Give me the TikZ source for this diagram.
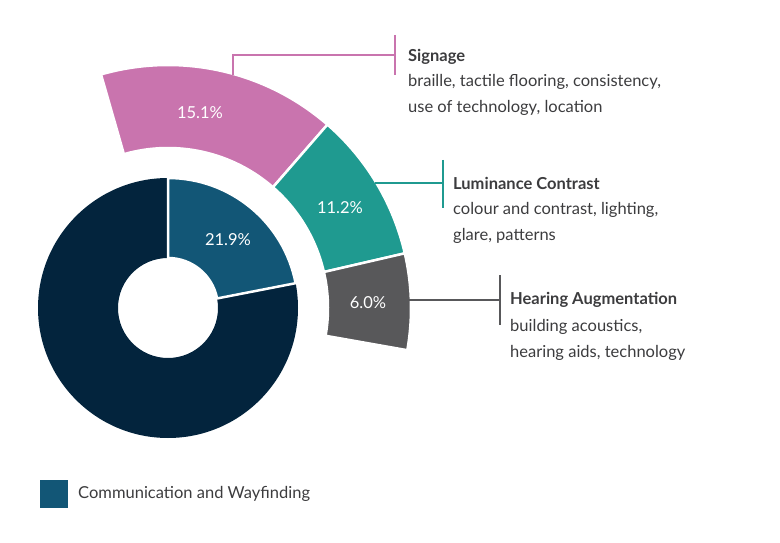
\documentclass[tikz,border=0pt]{standalone}
\usepackage{fontspec}
\setmainfont{Lato}
\definecolor{navy}{HTML}{03243D}
\definecolor{wayblue}{HTML}{125676}
\definecolor{signpink}{HTML}{C974AE}
\definecolor{lumteal}{HTML}{1F9A90}
\definecolor{heargrey}{HTML}{58585A}
\definecolor{txtgrey}{HTML}{3C3C3E}
\def\flabel#1{\fontsize{16.5}{18}\selectfont #1}

\begin{document}
\begin{tikzpicture}[x=1pt,y=1pt,
    seg/.style={draw=white,line width=2.5pt},
    pct/.style={text=white,font=\flabel},
    desc/.style={text=txtgrey,anchor=west,font=\flabel,inner sep=0pt}
    ]
    \useasboundingbox (0,0) rectangle (780,542);
    \coordinate (c) at (168,234);
    % inner donut
    \fill[navy,even odd rule] (c) circle (130) (c) circle (50);
    \fill[wayblue,seg] ([shift={(90:50)}]c) -- ([shift={(90:130)}]c)
      arc (90:11:130) -- ([shift={(11:50)}]c) arc (11:90:50) -- cycle;
    \fill[white] (c) circle (49);
    % outer ring
    \foreach \a/\b/\col in {106/49/signpink,49/13/lumteal,13/-10/heargrey} {
      \fill[\col,seg] ([shift={(\a:160)}]c) -- ([shift={(\a:243)}]c)
        arc (\a:\b:243) -- ([shift={(\b:160)}]c) arc (\b:\a:160) -- cycle;
    }
    \node[pct] (p1) at (228,302) {21.9\%};
    \node[pct] (p2) at (200,429) {15.1\%};
    \node[pct] (p3) at (340,334) {11.2\%};
    \node[pct] (p4) at (368,239) {6.0\%};

    % callouts
    \coordinate (s0) at (233,467);
    \coordinate (s1) at (395,487);
    \draw[signpink,line width=1.5pt] (s0) |- (s1);
    \draw[signpink,line width=1.5pt] (395,507) -- (395,467);
    \node[desc] (sig) at (408,485) {\textbf{Signage}};
    \node[desc] (sig2) at (408,460) {braille, tactile flooring, consistency,};
    \node[desc] (sig3) at (408,434) {use of technology, location};

    \coordinate (l0) at (375,359);
    \coordinate (l1) at (443,359);
    \draw[lumteal,line width=1.5pt] (l0) -- (l1);
    \draw[lumteal,line width=1.5pt] (443,382) -- (443,334);
    \node[desc] (lum) at (453,359) {\textbf{Luminance Contrast}};
    \node[desc] (lum2) at (453,332) {colour and contrast, lighting,};
    \node[desc] (lum3) at (453,306) {glare, patterns};

    \coordinate (h0) at (406,242);
    \coordinate (h1) at (500,242);
    \draw[heargrey,line width=1.5pt] (h0) -- (h1);
    \draw[heargrey,line width=1.5pt] (500,267) -- (500,217);
    \node[desc] (hear) at (510,242) {\textbf{Hearing Augmentation}};
    \node[desc] (hear2) at (510,215) {building acoustics,};
    \node[desc] (hear3) at (510,189) {hearing aids, technology};

    % legend
    \fill[wayblue] (40,34) rectangle (68,62);
    \node[desc] (leg) at (78,48) {Communication and Wayfinding};
\end{tikzpicture}
\end{document}
